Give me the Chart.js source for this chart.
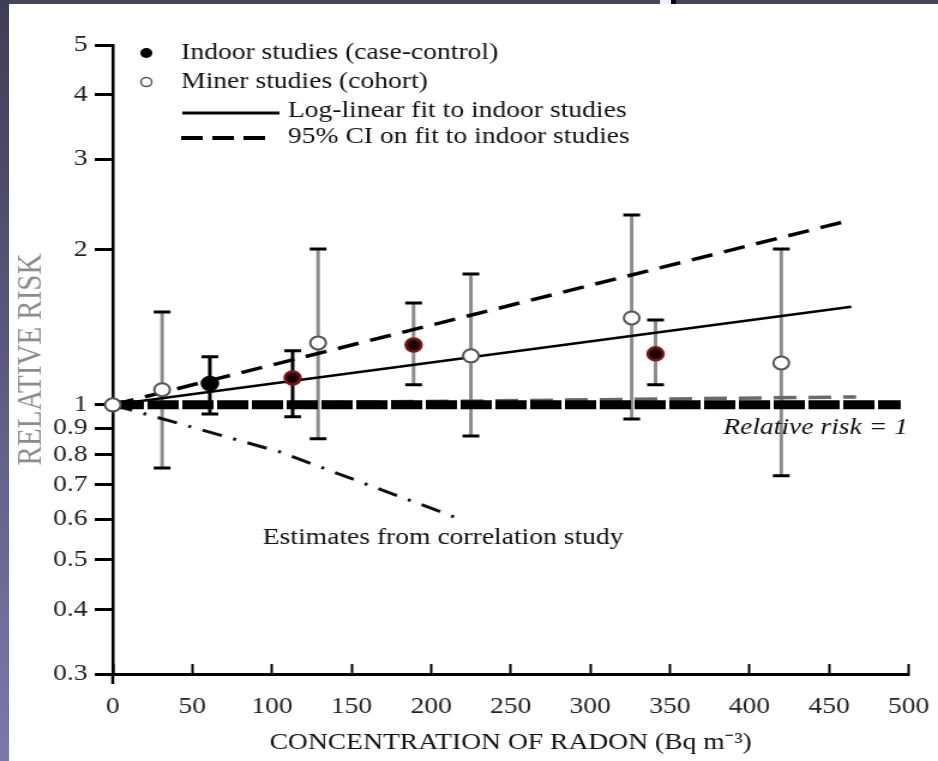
<!DOCTYPE html>
<html>
<head>
<meta charset="utf-8">
<script src="https://cdn.jsdelivr.net/npm/chart.js@4.4.1/dist/chart.umd.min.js"></script>
<style>
  body { margin: 0; background: #fff; }
  #wrap { position: relative; width: 938px; height: 761px; overflow: hidden; background: #fff; }
  .band-top { position: absolute; left: 0; top: 0; width: 938px; height: 4px; background: #44445c; }
  .band-left { position: absolute; left: 0; top: 0; width: 9px; height: 761px; background: linear-gradient(#3e3e56, #7b79aa); }
  .notch { position: absolute; top: 0; height: 4px; }
</style>
</head>
<body>
<div id="wrap">
  <!-- the picture is stretched sideways, so the canvas is drawn narrower and scaled by css -->
  <canvas id="myChart" width="782" height="761" style="width:938px;height:761px;display:block"></canvas>
  <div class="band-top"></div>
  <div class="band-left"></div>
  <div class="notch" style="left:660px;width:11px;background:#eef0ff"></div>
  <div class="notch" style="left:671px;width:5px;background:#000"></div>
</div>
<script>
// datos
const xTicks = [0, 50, 100, 150, 200, 250, 300, 350, 400, 450, 500]
const yTicks = [0.3, 0.4, 0.5, 0.6, 0.7, 0.8, 0.9, 1, 2, 3, 4, 5]
const yTickLabels = ['0.3', '0.4', '0.5', '0.6', '0.7', '0.8', '0.9', '1', '2', '3', '4', '5']

// indoor studies (case-control)
const indoorX = [61, 113, 189, 341]
const indoorRR = [1.10, 1.128, 1.307, 1.256]
const indoorLo = [0.96, 0.948, 1.094, 1.094]
const indoorHi = [1.24, 1.273, 1.577, 1.462]

// miner studies (cohort)
const minerX = [0, 31, 129, 225, 326, 420]
const minerRR = [1.0, 1.07, 1.319, 1.245, 1.475, 1.206]
const minerLo = [null, 0.754, 0.859, 0.87, 0.939, 0.728]
const minerHi = [null, 1.515, 2.008, 1.796, 2.338, 2.008]

// lines
const fitX = [0, 464]
const fitRR = [1, 1.55]
const ciHiX = [0, 460]
const ciHiRR = [1, 2.27]
const ciLoX = [0, 467]
const ciLoRR = [1, 1.036]
const refX = [0, 495]
const refRR = [1, 1]
const corrX = [0, 105, 215]
const corrRR = [1, 0.81, 0.605]

const legendLabels = [
  'Indoor studies (case-control)',
  'Miner studies (cohort)',
  'Log-linear fit to indoor studies',
  '95% CI on fit to indoor studies'
]
const refLabel = 'Relative risk = 1'
const corrLabel = 'Estimates from correlation study'

const serif = "'Liberation Serif', 'Times New Roman', serif"

function pts(xs, ys) {
  return xs.map((v, i) => ({ x: v, y: ys[i] }))
}

const errorBars = {
  id: 'errorBars',
  beforeDatasetsDraw(chart) {
    const { ctx, scales: { x, y } } = chart
    chart.data.datasets.forEach(ds => {
      if (!ds.errLo) return
      ds.data.forEach((p, j) => {
        const lo = ds.errLo[j]
        const hi = ds.errHi[j]
        if (lo == null) return
        const px = x.getPixelForValue(p.x)
        const top = y.getPixelForValue(hi)
        const bot = y.getPixelForValue(lo)
        ctx.save()
        ctx.strokeStyle = ds.barColor(j)
        ctx.lineWidth = 3
        ctx.beginPath()
        ctx.moveTo(px, top)
        ctx.lineTo(px, bot)
        ctx.stroke()
        ctx.strokeStyle = '#000'
        ctx.lineWidth = 3
        ctx.beginPath()
        ctx.moveTo(px - 7, top)
        ctx.lineTo(px + 7, top)
        ctx.moveTo(px - 7, bot)
        ctx.lineTo(px + 7, bot)
        ctx.stroke()
        ctx.restore()
      })
    })
  }
}

const extras = {
  id: 'extras',
  afterDraw(chart) {
    const { ctx, chartArea: area } = chart
    ctx.save()
    // y axis runs a little below the x axis
    ctx.strokeStyle = '#000'
    ctx.lineWidth = 2.5
    ctx.beginPath()
    ctx.moveTo(area.left, area.bottom)
    ctx.lineTo(area.left, area.bottom + 10)
    ctx.stroke()

    // legend
    ctx.fillStyle = '#000'
    ctx.beginPath()
    ctx.arc(122, 53, 5, 0, Math.PI * 2)
    ctx.fill()
    ctx.fillStyle = '#fff'
    ctx.strokeStyle = '#555'
    ctx.lineWidth = 1.5
    ctx.beginPath()
    ctx.arc(122, 82, 4.5, 0, Math.PI * 2)
    ctx.fill()
    ctx.stroke()

    ctx.strokeStyle = '#000'
    ctx.lineWidth = 3
    ctx.beginPath()
    ctx.moveTo(152, 113)
    ctx.lineTo(233, 113)
    ctx.stroke()
    ctx.lineWidth = 4
    ctx.setLineDash([18, 8])
    ctx.beginPath()
    ctx.moveTo(151, 138)
    ctx.lineTo(224, 138)
    ctx.stroke()
    ctx.setLineDash([])

    ctx.fillStyle = '#111'
    ctx.font = '23px ' + serif
    ctx.textBaseline = 'middle'
    ctx.textAlign = 'left'
    ctx.fillText(legendLabels[0], 151, 53)
    ctx.fillText(legendLabels[1], 151, 82)
    ctx.fillText(legendLabels[2], 240, 111)
    ctx.fillText(legendLabels[3], 240, 137)

    ctx.fillText(corrLabel, 219, 538)
    ctx.font = 'italic 23px ' + serif
    ctx.textAlign = 'right'
    ctx.fillText(refLabel, 757, 428)
    ctx.restore()
  }
}

const ctx = document.getElementById('myChart')

new Chart(ctx, {
  type: 'scatter',
  data: {
    datasets: [
      {
        label: legendLabels[0],
        data: pts(indoorX, indoorRR),
        errLo: indoorLo,
        errHi: indoorHi,
        barColor: j => (j < 2 ? '#000' : '#8c8c8c'),
        pointRadius: 6.5,
        borderWidth: 2.5,
        backgroundColor: c => (c.dataIndex === 0 ? '#000' : '#1e0202'),
        borderColor: c => (c.dataIndex === 0 ? '#000' : '#7a1616')
      },
      {
        label: legendLabels[1],
        data: pts(minerX, minerRR),
        errLo: minerLo,
        errHi: minerHi,
        barColor: () => '#8c8c8c',
        pointRadius: 6.5,
        borderWidth: 2,
        backgroundColor: '#fff',
        borderColor: '#555'
      },
      {
        label: legendLabels[2],
        data: pts(fitX, fitRR),
        showLine: true,
        pointRadius: 0,
        borderColor: '#000',
        borderWidth: 2.5
      },
      {
        label: legendLabels[3],
        data: pts(ciHiX, ciHiRR),
        showLine: true,
        pointRadius: 0,
        borderColor: '#000',
        borderWidth: 3.5,
        borderDash: [18, 10]
      },
      {
        label: refLabel,
        data: pts(refX, refRR),
        showLine: true,
        pointRadius: 0,
        borderColor: '#000',
        borderWidth: 9,
        borderDash: [26, 3]
      },
      {
        label: 'lower CI',
        data: pts(ciLoX, ciLoRR),
        showLine: true,
        pointRadius: 0,
        borderColor: '#6a6a6a',
        borderWidth: 3.5,
        borderDash: [19, 10]
      },
      {
        label: corrLabel,
        data: pts(corrX, corrRR),
        showLine: true,
        pointRadius: 0,
        borderColor: '#111',
        borderWidth: 3,
        borderDash: [17, 10, 2.5, 10]
      }
    ]
  },
  options: {
    responsive: false,
    animation: false,
    events: [],
    clip: false,
    layout: { padding: { top: 45, right: 24.5, left: 0, bottom: 0 } },
    plugins: {
      legend: { display: false },
      tooltip: { enabled: false }
    },
    scales: {
      x: {
        type: 'linear',
        min: 0,
        max: 500,
        afterBuildTicks: s => { s.ticks = xTicks.map(v => ({ value: v })) },
        afterFit: s => {
          s.height = 87
          s.paddingLeft = 0
          s.paddingRight = 0
        },
        grid: { drawOnChartArea: false, tickLength: -10, tickWidth: 2, color: '#000' },
        border: { color: '#000', width: 3 },
        ticks: {
          autoSkip: false,
          maxRotation: 0,
          padding: 29,
          color: '#222',
          font: { family: serif, size: 23 }
        },
        title: {
          display: true,
          text: 'CONCENTRATION OF RADON (Bq m⁻³)',
          color: '#111',
          font: { family: serif, size: 23 },
          padding: { top: 0, bottom: 4 }
        }
      },
      y: {
        type: 'logarithmic',
        min: 0.3,
        max: 5,
        afterBuildTicks: s => { s.ticks = yTicks.map(v => ({ value: v })) },
        afterFit: s => { s.width = 94 },
        grid: { drawOnChartArea: false, tickLength: 15, tickWidth: 3, color: '#000' },
        border: { color: '#000', width: 2.5 },
        ticks: {
          padding: 6,
          color: '#222',
          font: { family: serif, size: 23 },
          callback: (v, i) => yTickLabels[i]
        },
        title: {
          display: true,
          text: 'RELATIVE RISK',
          color: '#8c8c8c',
          font: { family: serif, size: 29 },
          padding: { top: 9, bottom: 0 }
        }
      }
    }
  },
  plugins: [errorBars, extras]
})
</script>
</body>
</html>
